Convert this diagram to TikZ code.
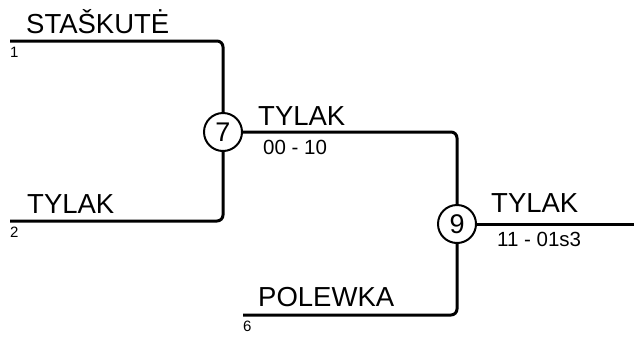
\documentclass[tikz,border=0pt]{standalone}
\usepackage{fontspec}
\setmainfont{Liberation Sans}
\usepackage{tikz}
\usetikzlibrary{positioning,calc}

\tikzset{
  bracket/.style={line width=3pt, rounded corners=6pt},
  match/.style={circle, draw, line width=2pt, fill=white, minimum size=38pt, inner sep=0pt, font=\fontsize{27}{27}\selectfont},
  player/.style={anchor=base west, inner sep=0pt, font=\fontsize{27.5}{27.5}\selectfont},
  score/.style={anchor=base west, inner sep=0pt, font=\fontsize{20.5}{20.5}\selectfont},
  seed/.style={anchor=base west, inner sep=0pt, font=\fontsize{15}{15}\selectfont}
}

\begin{document}
\begin{tikzpicture}[x=1pt, y=-1pt]
  \useasboundingbox (0,0) rectangle (636,338);
  % start of each line
  \coordinate (s1) at (10,41);
  \coordinate (s2) at (10,221);
  \coordinate (s6) at (243,315);
  \coordinate (win) at (634,224);
  % matches
  \node[match] (m7) at (223,132) {7};
  \node[match] (m9) at (457,224) {9};
  % lines
  \draw[bracket] (s1) -| (m7.north);
  \draw[bracket] (s2) -| (m7.south);
  \draw[bracket] (m7.east) -| (m9.north);
  \draw[bracket] (s6) -| (m9.south);
  \draw[bracket] (m9.east) -- (win);
  % names
  \node[player] (n1) at (26,33) {STAŠKUTĖ};
  \node[player] (n2) at (27,213) {TYLAK};
  \node[player] (n7) at (258,125) {TYLAK};
  \node[player] (n9) at (491,212) {TYLAK};
  \node[player] (n6) at (258,306) {POLEWKA};
  % scores
  \node[score] (r7) at (263,154) {00 - 10};
  \node[score] (r9) at (497,246) {11 - 01s3};
  % seeds
  \node[seed] (d1) at (10,57) {1};
  \node[seed] (d2) at (10,237) {2};
  \node[seed] (d6) at (243,331) {6};
\end{tikzpicture}
\end{document}
